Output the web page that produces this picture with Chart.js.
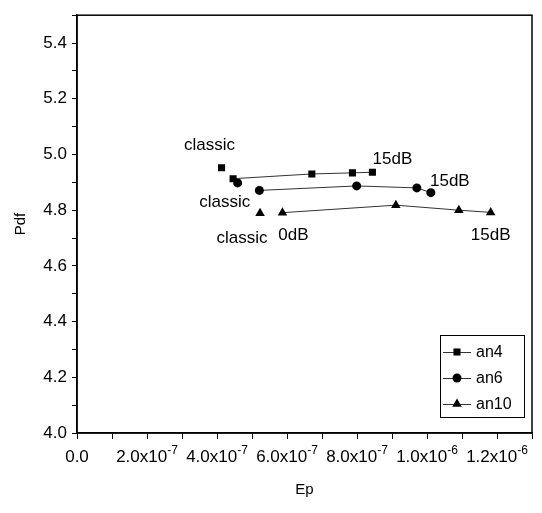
<!DOCTYPE html>
<html><head><meta charset="utf-8">
<script src="https://cdn.jsdelivr.net/npm/chart.js@4"></script>
<style>html,body{margin:0;padding:0;background:#fff}</style>
</head><body>
<canvas id="c" width="542" height="513"></canvas>
<script>
// ---- data ----
const seriesNames = ['an4', 'an6', 'an10'];
const an4X = [4.13e-7, 4.46e-7, 6.71e-7, 7.87e-7, 8.44e-7];
const an4Y = [4.952, 4.913, 4.930, 4.934, 4.936];
const an6X = [4.59e-7, 5.21e-7, 7.99e-7, 9.71e-7, 1.011e-6];
const an6Y = [4.898, 4.871, 4.887, 4.880, 4.863];
const an10X = [5.23e-7, 5.87e-7, 9.11e-7, 1.091e-6, 1.182e-6];
const an10Y = [4.789, 4.791, 4.818, 4.800, 4.792];
const xTickValues = [0, 2e-7, 4e-7, 6e-7, 8e-7, 1.0e-6, 1.2e-6];
const xTickBase = ['0.0', '2.0x10', '4.0x10', '6.0x10', '8.0x10', '1.0x10', '1.2x10'];
const xTickExp = ['', '-7', '-7', '-7', '-7', '-6', '-6'];
const yTickLabels = ['4.0', '4.2', '4.4', '4.6', '4.8', '5.0', '5.2', '5.4'];
const pointTexts = ['classic', 'classic', 'classic', '0dB', '15dB', '15dB', '15dB'];
const pointTextSeries = [0, 1, 2, 2, 0, 1, 2];
const pointTextIndex = [0, 0, 0, 1, 4, 4, 4];

// ---- styles ----
const textOffsets = [[-12, -23], [-13, 19], [-18, 25], [11, 23], [20, -13], [19, -11], [0, 23]];
const pointStyles = ['rect', 'circle', 'triangle'];
const pointRadii = [5, 4.5, 5.5];
const FONT = '"Liberation Sans", Arial, sans-serif';

function toPts(xs, ys) { return xs.map((x, i) => ({x: x, y: ys[i]})); }
const seriesData = [toPts(an4X, an4Y), toPts(an6X, an6Y), toPts(an10X, an10Y)];

const datasets = seriesNames.map((name, i) => ({
  label: name,
  data: seriesData[i],
  showLine: true,
  borderColor: '#333',
  borderWidth: 1,
  backgroundColor: '#000',
  pointBackgroundColor: '#000',
  pointBorderColor: '#000',
  pointBorderWidth: 0,
  pointStyle: pointStyles[i],
  pointRadius: pointRadii[i],
  pointHoverRadius: pointRadii[i],
  segment: { borderColor: ctx => ctx.p0DataIndex === 0 ? 'rgba(0,0,0,0)' : '#333' }
}));

function drawMarker(ctx, style, x, y, r) {
  ctx.beginPath();
  if (style === 'rect') {
    const s = Math.SQRT1_2 * r;
    ctx.rect(x - s, y - s, 2 * s, 2 * s);
  } else if (style === 'circle') {
    ctx.arc(x, y, r, 0, Math.PI * 2);
  } else {
    const w = r * Math.sqrt(3);
    ctx.moveTo(x, y - r);
    ctx.lineTo(x + w / 2, y + r / 2);
    ctx.lineTo(x - w / 2, y + r / 2);
    ctx.closePath();
  }
  ctx.fill();
}

const decor = {
  id: 'decor',
  afterDatasetsDraw(chart) {
    const ctx = chart.ctx, a = chart.chartArea;
    ctx.save();
    // frame
    ctx.strokeStyle = '#000';
    ctx.lineWidth = 1.5;
    ctx.strokeRect(a.left, a.top, a.right - a.left, a.bottom - a.top);
    // x tick labels with superscript exponents
    const xs = chart.scales.x;
    ctx.fillStyle = '#000';
    ctx.textBaseline = 'alphabetic';
    ctx.textAlign = 'left';
    xTickValues.forEach((v, k) => {
      ctx.font = '17px ' + FONT;
      const wb = ctx.measureText(xTickBase[k]).width;
      ctx.font = '12px ' + FONT;
      const we = xTickExp[k] ? ctx.measureText(xTickExp[k]).width : 0;
      const x0 = xs.getPixelForValue(v) - (wb + we) / 2;
      ctx.font = '17px ' + FONT;
      ctx.fillText(xTickBase[k], x0, a.bottom + 29);
      if (xTickExp[k]) {
        ctx.font = '12px ' + FONT;
        ctx.fillText(xTickExp[k], x0 + wb, a.bottom + 21);
      }
    });
    // point texts
    ctx.font = '17px ' + FONT;
    ctx.textAlign = 'center';
    ctx.textBaseline = 'middle';
    pointTexts.forEach((t, k) => {
      const el = chart.getDatasetMeta(pointTextSeries[k]).data[pointTextIndex[k]];
      ctx.fillText(t, el.x + textOffsets[k][0], el.y + textOffsets[k][1]);
    });
    // legend
    const bw = 84, bh = 82;
    const bx = a.right - 8 - bw, by = a.bottom - 16 - bh;
    ctx.fillStyle = '#fff';
    ctx.fillRect(bx, by, bw, bh);
    ctx.strokeStyle = '#000';
    ctx.lineWidth = 1;
    ctx.strokeRect(bx + 0.5, by + 0.5, bw, bh);
    ctx.font = '16px ' + FONT;
    ctx.textAlign = 'left';
    chart.data.datasets.forEach((ds, i) => {
      const y = by + 17 + i * 26;
      ctx.strokeStyle = '#333';
      ctx.beginPath();
      ctx.moveTo(bx + 3, y + 0.5);
      ctx.lineTo(bx + 31, y + 0.5);
      ctx.stroke();
      ctx.fillStyle = '#000';
      drawMarker(ctx, pointStyles[i], bx + 17, y, pointRadii[i]);
      ctx.fillText(ds.label, bx + 36, y + 1);
    });
    ctx.restore();
  }
};

new Chart(document.getElementById('c'), {
  type: 'scatter',
  data: { datasets },
  plugins: [decor],
  options: {
    responsive: false,
    devicePixelRatio: 1,
    animation: false,
    layout: { padding: { top: 9, right: 10, left: 0, bottom: 0 } },
    plugins: { legend: { display: false }, tooltip: { enabled: false } },
    scales: {
      x: {
        type: 'linear', min: 0, max: 1.3e-6,
        afterFit: s => { s.height = 80; },
        border: { color: '#000', width: 1.5 },
        grid: { drawOnChartArea: false, drawTicks: true, tickLength: 6, tickColor: '#000', tickWidth: 1 },
        ticks: {
          stepSize: 1e-7, autoSkip: false, maxRotation: 0, minRotation: 0,
          color: '#000', font: { family: FONT, size: 17 }, padding: 6,
          callback: () => ''
        },
        title: { display: true, text: 'Ep', color: '#000', font: { family: FONT, size: 15 }, padding: { top: 0, bottom: 14 } }
      },
      y: {
        type: 'linear', min: 4.0, max: 5.5,
        afterFit: s => { s.width = 77; },
        border: { color: '#000', width: 1.5 },
        grid: { drawOnChartArea: false, drawTicks: true, tickLength: 5, tickColor: '#000', tickWidth: 1 },
        ticks: {
          stepSize: 0.1, autoSkip: false,
          color: '#000', font: { family: FONT, size: 17 }, padding: 5,
          callback: v => { const k = Math.round(v * 10) - 40; return (k % 2 === 0 && k / 2 < yTickLabels.length) ? yTickLabels[k / 2] : ''; }
        },
        title: { display: true, text: 'Pdf', color: '#000', font: { family: FONT, size: 15 }, padding: { top: 12, bottom: 0 } }
      }
    }
  }
});
</script>
</body></html>
